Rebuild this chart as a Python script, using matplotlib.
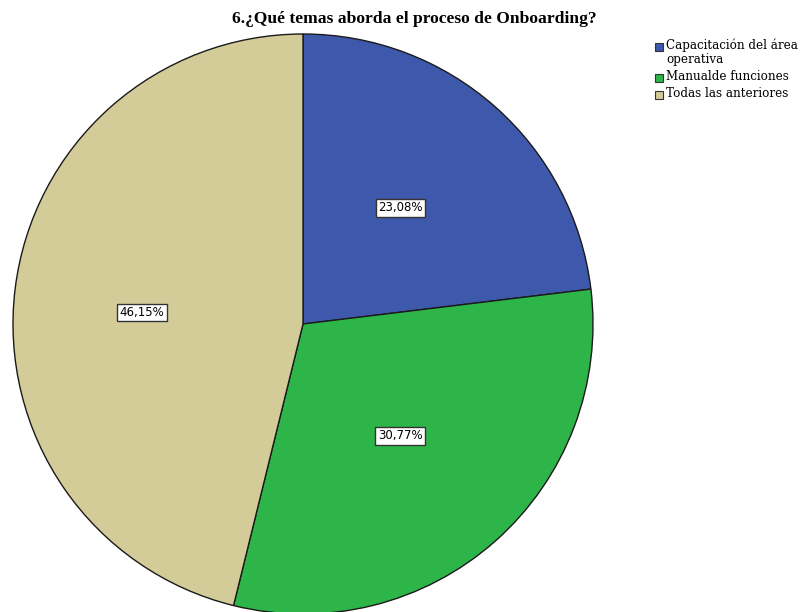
import matplotlib.pyplot as plt
from matplotlib.patches import Rectangle

# respuestas de la pregunta 6
categorias = ['Capacitación del área\noperativa', 'Manualde funciones', 'Todas las anteriores']
porcentajes = [23.08, 30.77, 46.15]
colores = ['#3e58ab', '#2db54a', '#d4cc98']

titulo = '6.¿Qué temas aborda el proceso de Onboarding?'

W, H = 808, 612
fig = plt.figure(figsize=(W / 100, H / 100), dpi=100)
ax = fig.add_axes([0, 0, 1, 1])

cx, cy, r = 303, H - 324, 290
wedges, _ = ax.pie(porcentajes, colors=colores, startangle=90, counterclock=False,
                   center=(cx, cy), radius=r,
                   wedgeprops=dict(edgecolor='#1a1a1a', linewidth=1.0))

# etiquetas de porcentaje (posicion relativa al centro, en fraccion del radio)
offsets = [(0.335, 0.40), (0.335, -0.385), (-0.555, 0.04)]
for p, (dx, dy) in zip(porcentajes, offsets):
    txt = f'{p:.2f}%'.replace('.', ',')
    ax.text(cx + dx * r, cy + dy * r, txt, ha='center', va='center', fontsize=8.5,
            family='DejaVu Sans',
            bbox=dict(boxstyle='square,pad=0.2', facecolor='white', edgecolor='#333333', linewidth=1))

ax.set_xlim(0, W)
ax.set_ylim(0, H)
ax.set_aspect('auto')
ax.axis('off')

ax.text(414, H - 19, titulo, ha='center', va='center', fontsize=12.6,
        family='Liberation Serif', fontweight='bold')

# leyenda dibujada a mano: cuadro de color + texto
y = H - 49
for cat, col in zip(categorias, colores):
    ax.add_patch(Rectangle((655, y - 2), 8, 8, facecolor=col, edgecolor='#333333', linewidth=0.8))
    lineas = cat.split('\n')
    for i, linea in enumerate(lineas):
        ax.text(666, y - 14 * i, linea, ha='left', va='baseline',
                fontsize=8.6, family='DejaVu Serif')
    y -= 14 * (len(lineas) - 1) + 17

fig.savefig('out.png', dpi=100)
